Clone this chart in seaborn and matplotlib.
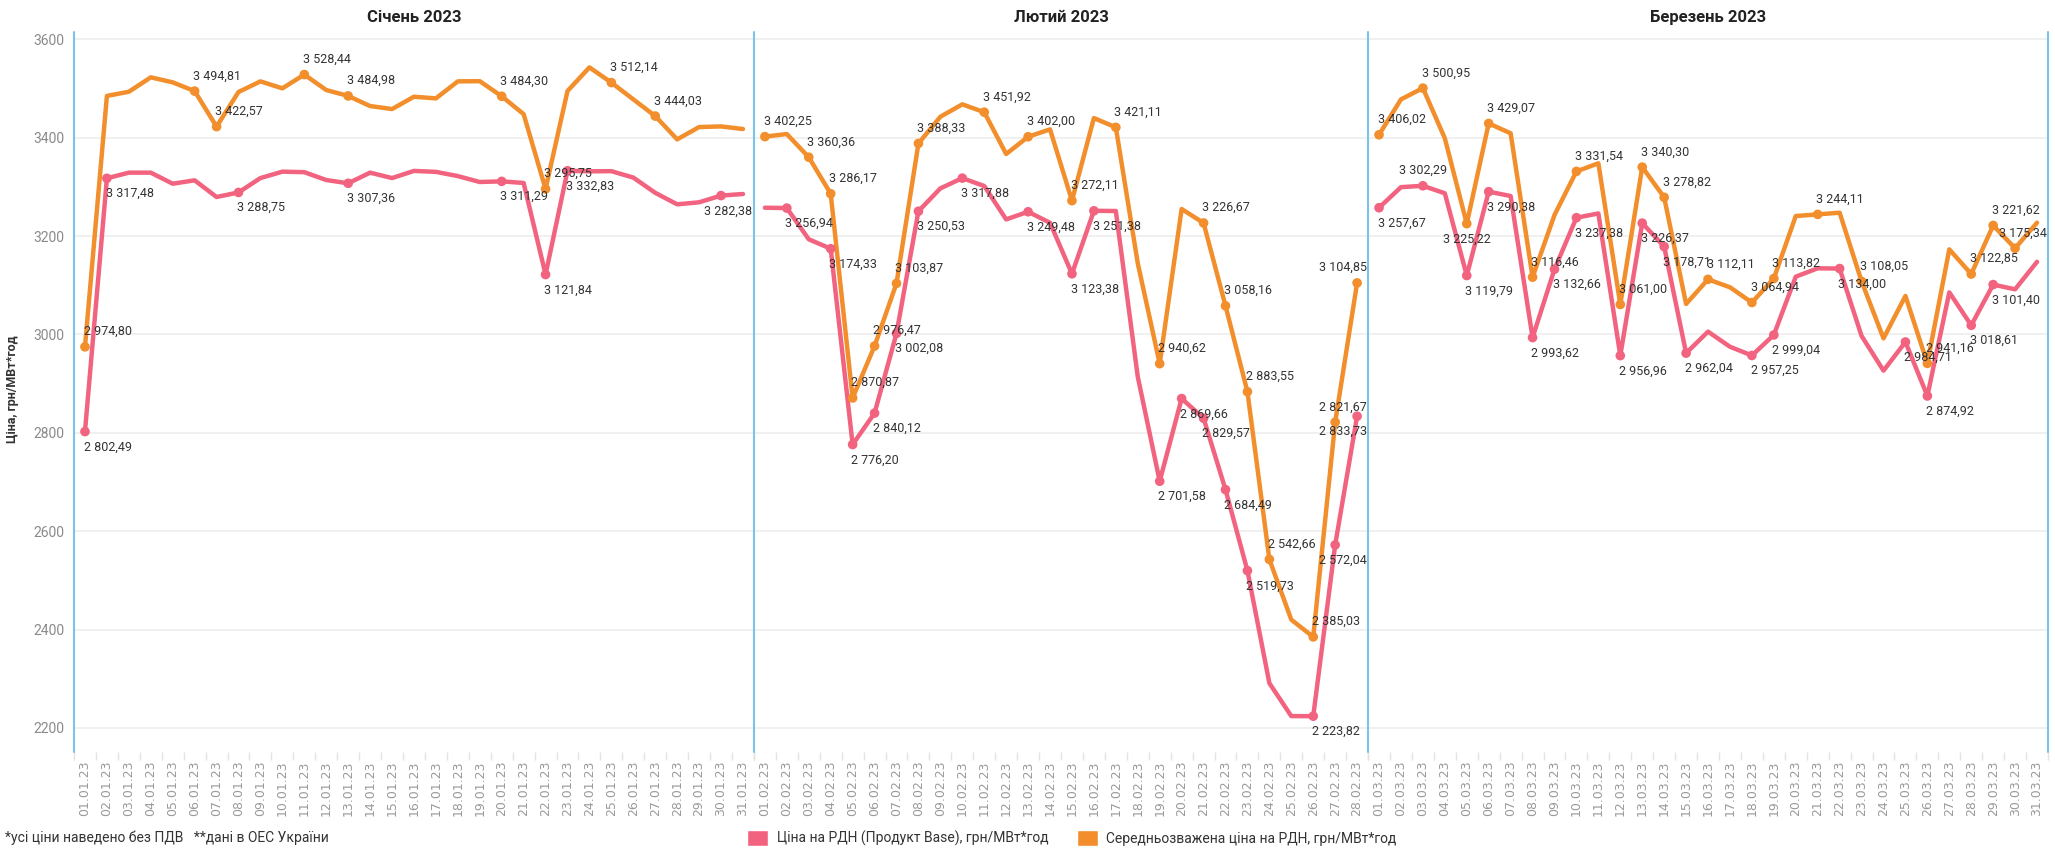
import numpy as np
import pandas as pd
import seaborn as sns
import matplotlib.pyplot as plt
from matplotlib.patches import Patch

# --- Data ---
months = ["Січень 2023", "Лютий 2023", "Березень 2023"]
month_codes = ["01", "02", "03"]
days_in_month = [31, 28, 31]

series_base = "Ціна на РДН (Продукт Base), грн/МВт*год"
series_avg = "Середньозважена ціна на РДН, грн/МВт*год"

jan_base = [2802.49, 3317.48, 3329, 3329, 3306.5, 3313.4, 3279.5, 3288.75, 3318, 3331,
            3330, 3314, 3307.36, 3329, 3318, 3332.5, 3330.6, 3322, 3310, 3311.29,
            3308, 3121.84, 3332.83, 3331.7, 3332, 3319, 3288, 3264.6, 3268.7, 3282.38, 3285.6]
jan_avg = [2974.80, 3485, 3493.5, 3522.8, 3512.6, 3494.81, 3422.57, 3493, 3514.6, 3500.4,
           3528.44, 3497, 3484.98, 3464.4, 3458.3, 3483.4, 3480, 3514.6, 3515, 3484.30,
           3448, 3295.75, 3495, 3543, 3512.14, 3478, 3444.03, 3396.7, 3421.7, 3423, 3417.7]

feb_base = [3257.7, 3256.94, 3193.5, 3174.33, 2776.20, 2840.12, 3002.08, 3250.53, 3297, 3317.88,
            3301.8, 3234, 3249.48, 3227, 3123.38, 3251.38, 3251, 2914, 2701.58, 2869.66,
            2829.57, 2684.49, 2519.73, 2291, 2224, 2223.82, 2572.04, 2833.73]
feb_avg = [3402.25, 3407.5, 3360.36, 3286.17, 2870.87, 2976.47, 3103.87, 3388.33, 3442.7, 3467.9,
           3451.92, 3366.9, 3402.00, 3417, 3272.11, 3440, 3421.11, 3144.7, 2940.62, 3255,
           3226.67, 3058.16, 2883.55, 2542.66, 2420, 2385.03, 2821.67, 3104.85]

mar_base = [3257.67, 3299.5, 3302.29, 3287, 3119.79, 3290.38, 3281.5, 2993.62, 3132.66, 3237.38,
            3246, 2956.96, 3226.37, 3178.71, 2962.04, 3005.7, 2975, 2957.25, 2999.04, 3117.5,
            3134.5, 3134.00, 2997, 2926.4, 2984.71, 2874.92, 3085.6, 3018.61, 3101.40, 3091.8, 3147.7]
mar_avg = [3406.02, 3478, 3500.95, 3398.8, 3225.22, 3429.07, 3409, 3116.46, 3242.9, 3331.54,
           3348, 3061.00, 3340.30, 3278.82, 3062, 3112.11, 3095.9, 3064.94, 3113.82, 3240.8,
           3244.11, 3247.6, 3108.05, 2992, 3078.3, 2941.16, 3173, 3122.85, 3221.62, 3175.34, 3227.3]

# days (0-based) that carry a value label
jan_base_labeled = [0, 1, 7, 12, 19, 21, 22, 29]
jan_avg_labeled = [0, 5, 6, 10, 12, 19, 21, 24, 26]
feb_base_labeled = [1, 3, 4, 5, 6, 7, 9, 12, 14, 15, 18, 19, 20, 21, 22, 25, 26, 27]
feb_avg_labeled = [0, 2, 3, 4, 5, 6, 7, 10, 12, 14, 16, 18, 20, 21, 22, 23, 25, 26, 27]
mar_base_labeled = [0, 2, 4, 5, 7, 8, 9, 11, 12, 13, 14, 17, 18, 21, 24, 25, 27, 28]
mar_avg_labeled = [0, 2, 4, 5, 7, 9, 11, 12, 13, 15, 17, 18, 20, 22, 25, 27, 28, 29]

base_by_month = [jan_base, feb_base, mar_base]
avg_by_month = [jan_avg, feb_avg, mar_avg]
base_lab_by_month = [jan_base_labeled, feb_base_labeled, mar_base_labeled]
avg_lab_by_month = [jan_avg_labeled, feb_avg_labeled, mar_avg_labeled]

rows = []
for m, code, n, base, avg, bl, al in zip(months, month_codes, days_in_month, base_by_month,
                                         avg_by_month, base_lab_by_month, avg_lab_by_month):
    for i in range(n):
        date = f"{i + 1:02d}.{code}.23"
        rows.append((m, i, date, series_base, base[i], i in bl))
        rows.append((m, i, date, series_avg, avg[i], i in al))
df = pd.DataFrame(rows, columns=["month", "idx", "date", "series", "value", "labeled"])

# --- Style ---
pink = "#F2637F"
orange = "#F28E2B"
pane_blue = "#7CC3E8"
palette = {series_base: pink, series_avg: orange}

sns.set_theme(style="white")
plt.rcParams["font.family"] = ["Roboto", "DejaVu Sans"]

W, H = 2055, 848
fig = plt.figure(figsize=(W / 100, H / 100), dpi=100)
gs = fig.add_gridspec(1, 3, width_ratios=days_in_month, wspace=0,
                      left=74 / W, right=2048 / W, top=1 - 31.5 / H, bottom=1 - 752 / H)

# labels Tableau moved to the other side of the point
flipped = {("Березень 2023", series_avg, 4), ("Березень 2023", series_base, 2)}


def fmt(v):
    return f"{v:,.2f}".replace(",", " ").replace(".", ",")


for k, (m, n) in enumerate(zip(months, days_in_month)):
    ax = fig.add_subplot(gs[0, k])
    sub = df[df["month"] == m]

    sns.lineplot(data=sub, x="idx", y="value", hue="series", palette=palette,
                 lw=3.2, legend=False, ax=ax)
    sns.scatterplot(data=sub[sub["labeled"]], x="idx", y="value", hue="series",
                    palette=palette, s=48, edgecolor="none", legend=False, ax=ax, zorder=3)

    ax.set_xlim(-0.5, n - 0.5)
    ax.set_ylim(2151, 3616)
    ax.set_yticks(range(2200, 3601, 200))
    ax.grid(axis="y", color="#eeeeee", lw=1.2)
    ax.grid(axis="x", visible=False)
    ax.set_axisbelow(True)
    for s in ax.spines.values():
        s.set_visible(False)
    ax.axvline(-0.5, color=pane_blue, lw=1.5, clip_on=False, zorder=4)
    if k == len(months) - 1:
        ax.axvline(n - 0.5, color=pane_blue, lw=1.5, clip_on=False, zorder=4)

    dates = sub["date"].unique()
    ax.set_xticks(range(n))
    ax.set_xticklabels(dates, rotation=90, fontsize=9, color="#9a9a9a", family="DejaVu Sans")
    ax.set_xticks(np.arange(-0.5, n), minor=True)
    ax.tick_params(axis="x", which="major", length=0, pad=6)
    ax.tick_params(axis="x", which="minor", length=6, color="#e3e3e3", width=1, bottom=True)

    if k == 0:
        ax.tick_params(axis="y", length=0, pad=7, labelsize=10, labelcolor="#8a8a8a")
    else:
        ax.tick_params(axis="y", length=0, labelleft=False)
    ax.set_xlabel("")
    ax.set_ylabel("")
    ax.set_title(m, fontweight="bold", fontsize=12, pad=7, color="#222222")

    # --- value labels ---
    for r in sub[sub["labeled"]].itertuples():
        above = r.series == series_avg
        if (m, r.series, r.idx) in flipped:
            above = not above
            ha, x, dx = "center", r.idx, 0
        elif r.idx > n - 2.75:
            ha, x, dx = "right", n - 0.5, -1
        else:
            ha, x, dx = "left", r.idx, -1
        ax.annotate(fmt(r.value), xy=(x, r.value), xytext=(dx, 11 if above else -11),
                    textcoords="offset points", ha=ha, va="center",
                    fontsize=9, color="#333333", zorder=5)

fig.text(13 / W, 1 - 389 / H, "Ціна, грн/МВт*год", rotation=90, fontsize=9,
         fontweight="bold", ha="center", va="center", color="#333333")

handles = [Patch(facecolor=pink, label=series_base), Patch(facecolor=orange, label=series_avg)]
fig.legend(handles=handles, loc="center", bbox_to_anchor=(1072 / W, 1 - 838 / H), ncol=2,
           frameon=False, fontsize=10, handlelength=1.5, handleheight=1.4,
           handletextpad=0.6, columnspacing=2.1, labelcolor="#333333")

fig.text(5 / W, 1 - 838 / H, "*усі ціни наведено без ПДВ   **дані в ОЕС України",
         fontsize=10, ha="left", va="center", color="#333333")

fig.savefig("out.png", dpi=100)
